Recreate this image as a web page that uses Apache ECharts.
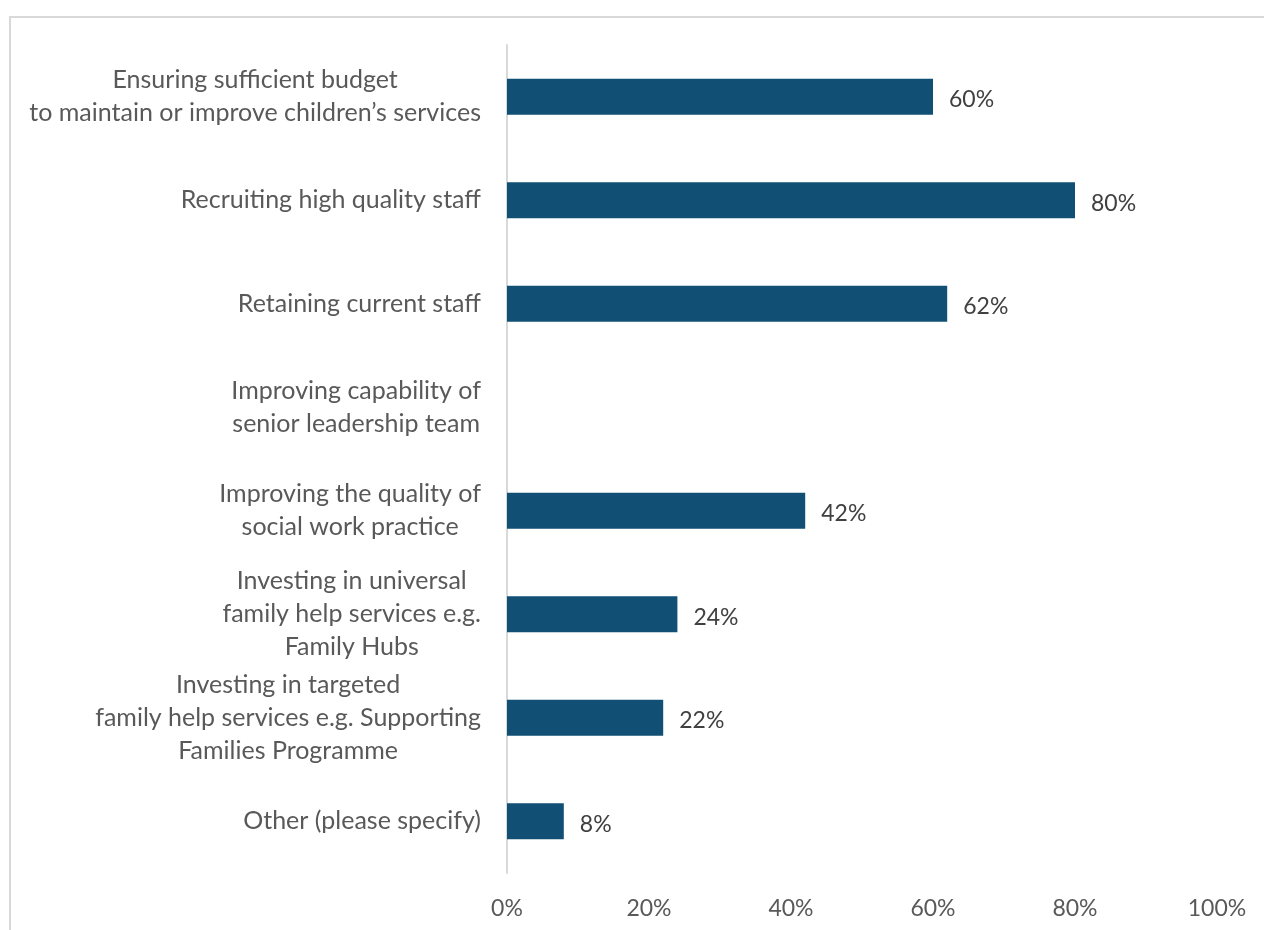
<!DOCTYPE html>
<html>
<head>
<meta charset="utf-8">
<script src="https://cdn.jsdelivr.net/npm/echarts@6/dist/echarts.min.js"></script>
<style>
  html, body { margin: 0; padding: 0; background: #fff; }
  #chart { width: 1264px; height: 930px; }
</style>
</head>
<body>
<div id="chart"></div>
<script>
// Survey priorities: share of respondents selecting each option (%)
const categories = [
  'Ensuring sufficient budget\nto maintain or improve children\u2019s services',
  'Recruiting high quality staff',
  'Retaining current staff',
  'Improving capability of\nsenior leadership team',
  'Improving the quality of\nsocial work practice',
  'Investing in universal\nfamily help services e.g.\nFamily Hubs',
  'Investing in targeted\nfamily help services e.g. Supporting\nFamilies Programme',
  'Other (please specify)'
];
const values = [60, 80, 62, null, 42, 24, 22, 8];
const tickValues = [0, 20, 40, 60, 80, 100];

const FONT = 'Lato';
const chart = echarts.init(document.getElementById('chart'), null, { renderer: 'canvas' });

chart.setOption({
  animation: false,
  backgroundColor: '#ffffff',
  graphic: [{
    type: 'rect',
    shape: { x: 10, y: 17, width: 1400, height: 1100 },
    style: { fill: 'none', stroke: '#d9d9d9', lineWidth: 2 },
    silent: true
  }],
  grid: { left: 507, right: 47, top: 45, bottom: 57, containLabel: false },
  xAxis: {
    type: 'value',
    min: tickValues[0],
    max: tickValues[tickValues.length - 1],
    interval: 20,
    axisLine: { show: false },
    axisTick: { show: false },
    splitLine: { show: false },
    axisLabel: {
      formatter: '{value}%',
      color: '#595959',
      fontFamily: FONT,
      fontSize: 23,
      margin: 24
    }
  },
  yAxis: {
    type: 'category',
    inverse: true,
    data: categories,
    axisLine: { show: true, lineStyle: { color: '#d9d9d9', width: 2 } },
    axisTick: { show: false },
    splitLine: { show: false },
    axisLabel: {
      color: '#595959',
      fontFamily: FONT,
      fontSize: 25,
      margin: 26,
      lineHeight: 33,
      formatter: function (v) {
        return v.split('\n').map(function (s) { return '{c|' + s + '}'; }).join('\n');
      },
      rich: {
        c: { align: 'center', color: '#595959', fontFamily: FONT, fontSize: 25, lineHeight: 33 }
      }
    }
  },
  series: [{
    type: 'bar',
    data: values,
    barWidth: 36,
    itemStyle: { color: '#114f74' },
    label: {
      show: true,
      position: 'right',
      distance: 16,
      offset: [0, 3],
      color: '#404040',
      fontFamily: FONT,
      fontSize: 23,
      formatter: function (p) { return p.value == null ? '' : p.value + '%'; }
    }
  }]
});
</script>
</body>
</html>
